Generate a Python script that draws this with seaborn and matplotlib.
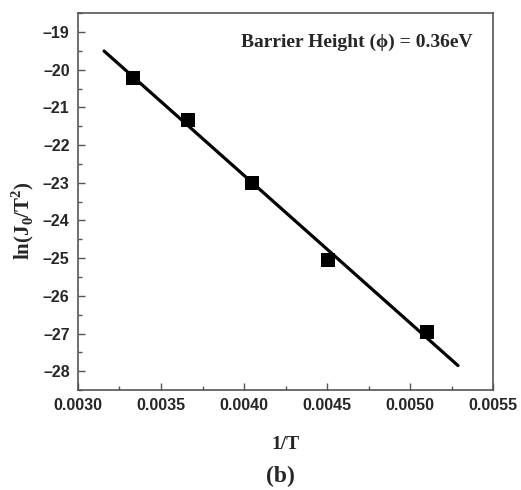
import matplotlib
matplotlib.use("Agg")
import matplotlib.pyplot as plt
import numpy as np
import pandas as pd
import seaborn as sns
from matplotlib.ticker import MultipleLocator

# data
inv_T = [0.003333, 0.003663, 0.004049, 0.004505, 0.005102]
ln_J0_T2 = [-20.22, -21.33, -23.00, -25.06, -26.96]
fit_range = [0.003157, 0.005289]

df = pd.DataFrame({"inv_T": inv_T, "ln": ln_J0_T2})

# linear fit over the data
slope, icpt = np.polyfit(inv_T, ln_J0_T2, 1)
fit = pd.DataFrame({"inv_T": fit_range})
fit["ln"] = slope * fit["inv_T"] + icpt

sns.set_style("ticks")
plt.rcParams["font.family"] = ["Liberation Sans", "DejaVu Sans"]

fig = plt.figure(figsize=(5.21, 4.90), dpi=100)
ax = fig.add_axes([0.1497, 0.204, 0.7966, 0.769])

sns.lineplot(data=fit, x="inv_T", y="ln", color="black", linewidth=2.3, ax=ax)
sns.scatterplot(data=df, x="inv_T", y="ln", marker="s", s=110, color="black",
                edgecolor="black", linewidth=0, ax=ax, zorder=3)

ax.set_xlim(0.0030, 0.0055)
ax.set_ylim(-28.5, -18.5)
ax.xaxis.set_major_locator(MultipleLocator(0.0005))
ax.xaxis.set_minor_locator(MultipleLocator(0.00025))
ax.yaxis.set_major_locator(MultipleLocator(1))
ax.yaxis.set_minor_locator(MultipleLocator(0.5))
ax.xaxis.set_major_formatter(matplotlib.ticker.FormatStrFormatter("%.4f"))
ax.yaxis.set_major_formatter(matplotlib.ticker.FuncFormatter(lambda v, p: f"{v:.0f}".replace("-", "\u2013")))

for s in ax.spines.values():
    s.set_color("#555555")
    s.set_linewidth(1.2)
ax.tick_params(which="major", direction="in", length=5, width=1, color="#555555",
               labelsize=11.5, pad=6)
ax.tick_params(which="minor", direction="in", length=3, width=1, color="#555555")
for lab in ax.get_xticklabels() + ax.get_yticklabels():
    lab.set_fontweight("bold")

serif = ["Liberation Serif", "DejaVu Serif"]
ax.set_xlabel("1/T", family=serif, fontweight="bold", fontsize=14, labelpad=16)
ax.set_ylabel(r"ln(J$_\mathregular{0}$/T$^\mathregular{2}$)", family=serif,
              fontweight="bold", fontsize=15, labelpad=5)
ax.yaxis.set_label_coords(-0.10, 0.45)
ax.text(0.952, 0.923, "Barrier Height (\u03d5) = 0.36eV", transform=ax.transAxes,
        ha="right", va="center", family=serif, fontweight="bold", fontsize=14)
fig.text(0.538, 0.027, "(b)", ha="center", va="center", family=serif,
         fontweight="bold", fontsize=17)

fig.savefig("out.png", dpi=100)
